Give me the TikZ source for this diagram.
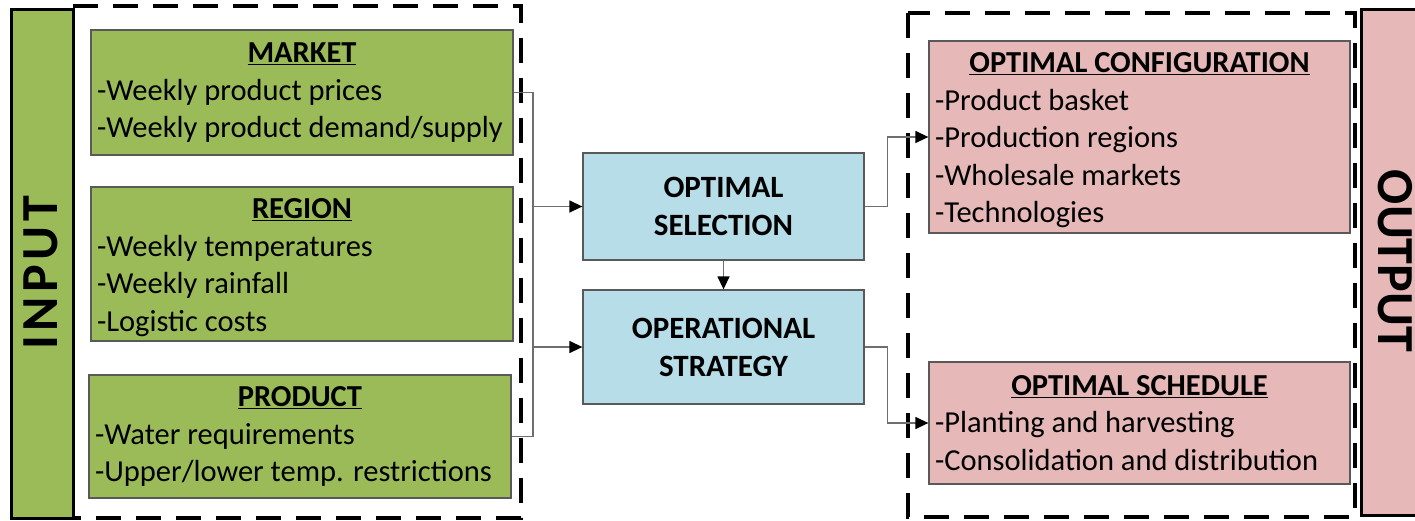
\documentclass[tikz,border=0pt]{standalone}
\usepackage{fontspec}
\setmainfont{Carlito}
\usetikzlibrary{arrows.meta}
\definecolor{grn}{HTML}{9BBB59}
\definecolor{blu}{HTML}{B7DEE8}
\definecolor{pnk}{HTML}{E6B9B8}
\definecolor{edgec}{HTML}{595959}
\definecolor{connc}{HTML}{6E6E6E}
\newcommand{\boxtitle}[3]{\makebox[#1]{\rule{0pt}{#2}\textbf{\underline{#3}}}}
\begin{document}
\begin{tikzpicture}[x=1pt,y=-1pt,
  box/.style={draw=edgec,line width=1.3pt,rectangle,inner xsep=6pt,inner ysep=0pt,
    align=left,font=\fontsize{30.5}{37.5}\selectfont},
  midbox/.style={draw=edgec,line width=1.3pt,rectangle,fill=blu,inner sep=0pt,
    align=center,font=\fontsize{31}{38}\selectfont\bfseries},
  bar/.style={draw=black,line width=3pt,rectangle,inner sep=0pt},
  barlabel/.style={font=\fontsize{52}{56}\selectfont\bfseries,inner sep=0pt},
  dashbox/.style={draw=black,line width=3.2pt,dash pattern=on 25pt off 15pt},
  conn/.style={draw=connc,line width=1.4pt},
  arr/.style={-{Triangle[length=13pt,width=12pt,color=black]}}
]
\useasboundingbox (0,0) rectangle (1415,520);

% side bars
\node[bar,fill=grn,minimum width=62,minimum height=509] (inbar) at (42,263.5) {};
\node[barlabel,rotate=90] (inlabel) at (41,275) {\addfontfeature{LetterSpace=9}INPUT\kern-4.5pt};
\node[bar,fill=pnk,minimum width=62,minimum height=506] (outbar) at (1392,262) {};
\node[barlabel,rotate=-90] (outlabel) at (1395,261) {OUTPUT};

% dashed frames
\draw[dashbox] (73,6) -- (521,6) -- (521,518) -- (73,518);
\draw[dashbox] (908,13) rectangle (1355,517);

% input boxes
\node[box,fill=grn,minimum width=422,minimum height=125] (market) at (302,92.5)
  {\boxtitle{410pt}{20pt}{MARKET}\\-Weekly product prices\\-Weekly product demand/supply};
\node[box,fill=grn,minimum width=422,minimum height=154] (region) at (302,264)
  {\boxtitle{410pt}{27pt}{REGION}\\-Weekly temperatures\\-Weekly rainfall\\-Logistic costs};
\node[box,fill=grn,minimum width=422,minimum height=123] (product) at (300,436.5)
  {\boxtitle{410pt}{20pt}{PRODUCT}\\-Water requirements\\-Upper/lower temp. restrictions};

% middle boxes
\node[midbox,minimum width=281,minimum height=107] (osel) at (723.5,206.5) {OPTIMAL\\SELECTION};
\node[midbox,minimum width=281,minimum height=114] (ops) at (723.5,347) {OPERATIONAL\\STRATEGY};

% output boxes
\node[box,fill=pnk,minimum width=421,minimum height=192] (config) at (1139.5,137)
  {\boxtitle{409pt}{27pt}{OPTIMAL CONFIGURATION}\\-Product basket\\-Production regions\\-Wholesale markets\\-Technologies};
\node[box,fill=pnk,minimum width=421,minimum height=122] (sched) at (1139.5,423)
  {\boxtitle{409pt}{20pt}{OPTIMAL SCHEDULE}\\-Planting and harvesting\\-Consolidation and distribution};

% connectors
\coordinate (bt) at (533,92.5);
\coordinate (bb) at (533,436.5);
\draw[conn] (market.east) -- (bt) -- (bb) -- (product.east);
\draw[conn,arr] (bt |- osel.west) -- (osel.west);
\draw[conn,arr] (bt |- ops.west) -- (ops.west);
\draw[conn,arr] (osel.south) -- (ops.north);
\draw[conn,arr] (osel.east) -- ++(23,0) |- (config.west);
\draw[conn,arr] (ops.east) -- ++(23,0) |- (sched.west);
\end{tikzpicture}
\end{document}
